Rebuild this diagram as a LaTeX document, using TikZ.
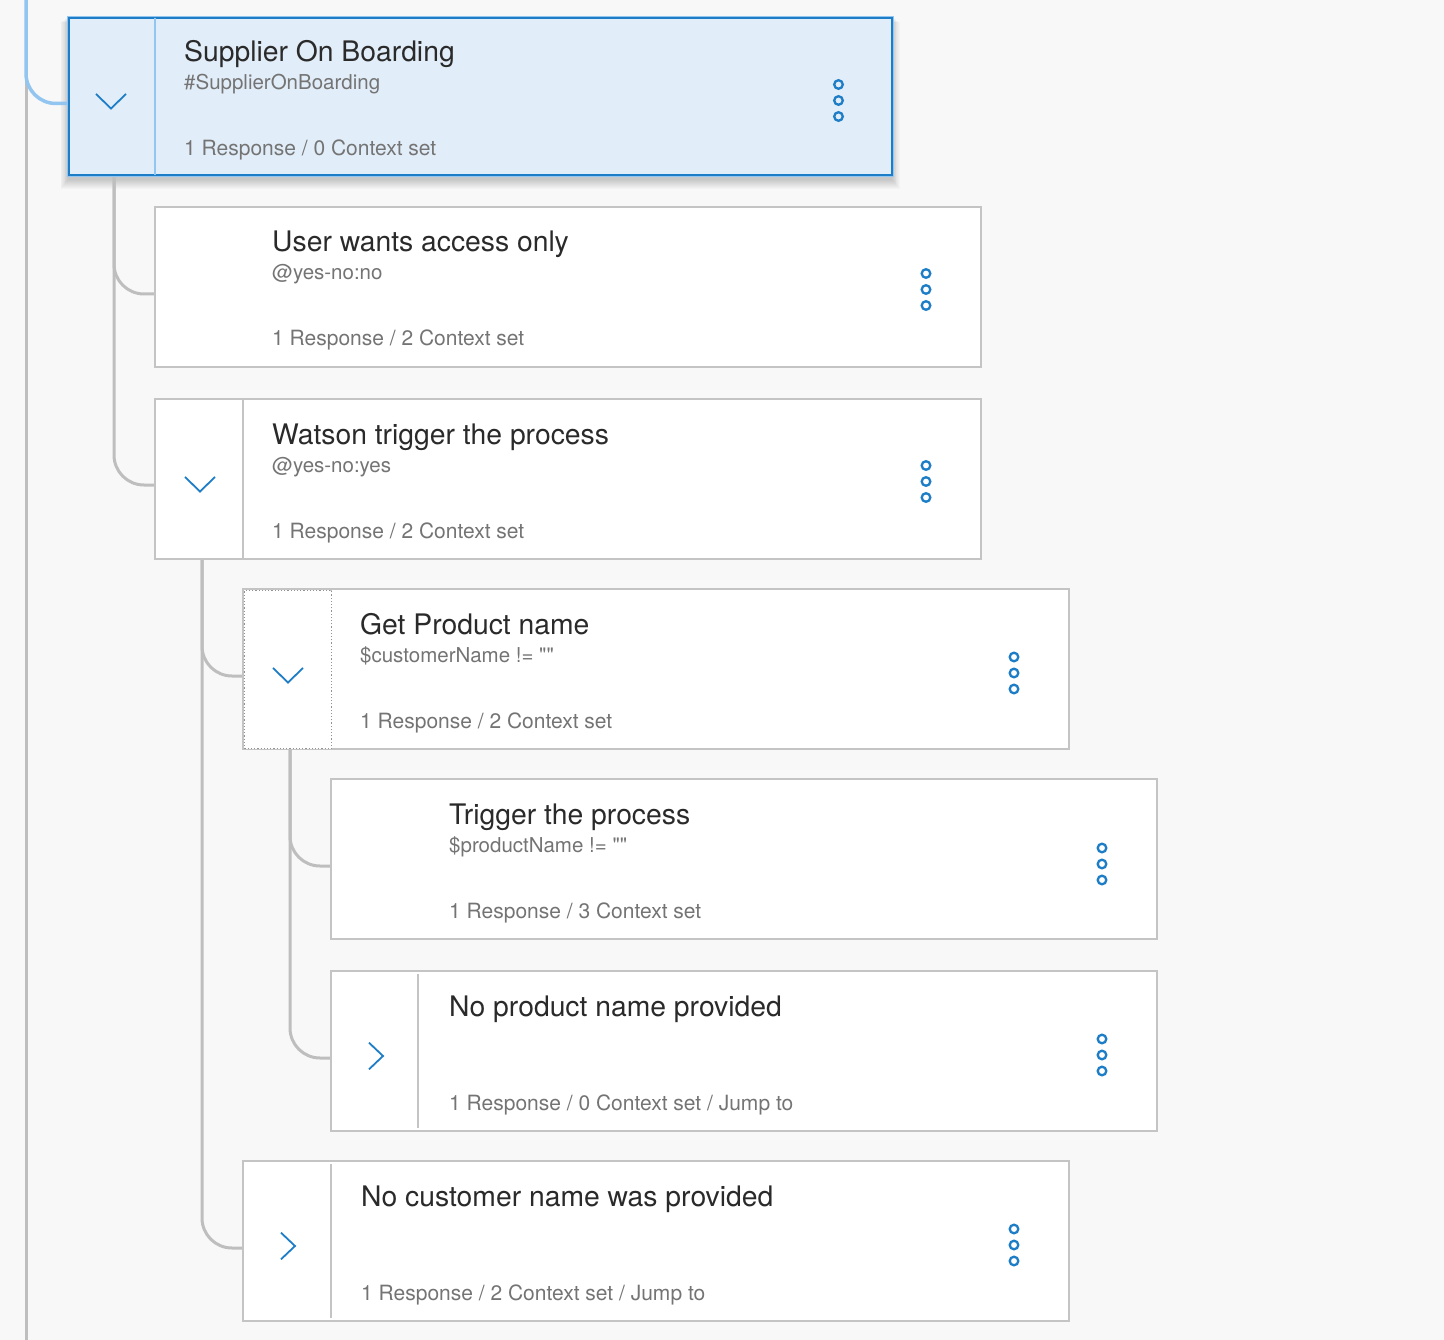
\documentclass[tikz,border=0pt]{standalone}
\usepackage{fontspec}
\setmainfont{TeX Gyre Heros}
\newfontfamily\qfont{TeX Gyre Heros}[Ligatures=TeXOff]
\usetikzlibrary{backgrounds}
\definecolor{bgc}{HTML}{F8F8F8}
\definecolor{linec}{HTML}{BEBEBE}
\definecolor{bordc}{HTML}{C4C4C4}
\definecolor{ibmblue}{HTML}{1D7DC6}
\definecolor{lightblue}{HTML}{92C5F0}
\definecolor{selfill}{HTML}{E1EDF8}
\definecolor{titlec}{HTML}{2A2A2A}
\definecolor{subc}{HTML}{747474}
\newcommand{\dq}{{\qfont\char34}}
\tikzset{
  card/.style={draw=bordc, line width=2pt, fill=white, minimum width=826pt, minimum height=160pt, anchor=north west, inner sep=0pt, outer sep=0pt},
  selcard/.style={draw=ibmblue, line width=2pt, fill=selfill, minimum width=823pt, minimum height=157pt, anchor=north west, inner sep=0pt, outer sep=0pt,
     preaction={draw=lightblue, line width=4pt}},
  conn/.style={draw=linec, line width=3pt, rounded corners=30pt},
  bconn/.style={draw=lightblue, line width=3.5pt, rounded corners=30pt},
  sepline/.style={draw=bordc, line width=2pt},
  bsepline/.style={draw=lightblue, line width=1.5pt},
  ttl/.style={anchor=base west, inner sep=0pt, text=titlec, font=\fontsize{28.3}{32}\selectfont},
  sub/.style={anchor=base west, inner sep=0pt, text=subc, font=\fontsize{20.5}{24}\selectfont},
  foot/.style={anchor=base west, inner sep=0pt, text=subc, font=\fontsize{21}{24}\selectfont},
  chev/.style={draw=ibmblue, line width=1.8pt},
  dotc/.style={draw=ibmblue, line width=2.3pt},
  shadowlayer/.style={fill=black, opacity=0.018},
  chevdown/.pic={\draw[chev] (-15,-7) -- (0,7.5) -- (15,-7);},
  chevright/.pic={\draw[chev] (-7,-13.3) -- (7,0) -- (-7,13.3);},
  kebab/.pic={\foreach \yy in {-16,0,16} \draw[dotc] (0,\yy) circle (4.3pt);}
}
\begin{document}
\begin{tikzpicture}[x=1pt,y=-1pt]
\useasboundingbox (0,0) rectangle (1444,1340);
\begin{scope}[on background layer]
\fill[bgc] (0,0) rectangle (1444,1340);
\end{scope}
\coordinate (top) at (26,0);
\coordinate (bottom) at (26,1340);

% cards
\node[selcard] (c1) at (68.5,18.5) {};
\node[card] (c2) at (155,207) {};
\node[card] (c3) at (155,399) {};
\node[card] (c4) at (243,589) {};
\node[card] (c5) at (331,779) {};
\node[card] (c6) at (331,971) {};
\node[card] (c7) at (243,1161) {};

% connectors and shadow behind cards
\begin{scope}[on background layer]
\foreach \i in {1,...,10}
  \fill[shadowlayer] ([shift={(-\i*0.8,-2+\i*0.6)}]c1.north west) rectangle ([shift={(\i*0.8,4+\i*1.0)}]c1.south east);
\draw[conn] (top) -- (bottom);
\draw[bconn] (top) |- ([yshift=-6.5pt]c1.west);
\draw[conn] ([xshift=45.5pt]c1.south west) |- ([yshift=-7pt]c2.west);
\draw[conn] ([xshift=45.5pt]c1.south west) |- ([yshift=-6pt]c3.west);
\draw[conn] ([xshift=47pt]c3.south west) |- ([yshift=-7pt]c4.west);
\draw[conn] ([xshift=47pt]c3.south west) |- ([yshift=-7pt]c7.west);
\draw[conn] ([xshift=47pt]c4.south west) |- ([yshift=-7pt]c5.west);
\draw[conn] ([xshift=47pt]c4.south west) |- ([yshift=-7pt]c6.west);
\end{scope}

% separators
\draw[bsepline] ([xshift=86.5pt]c1.north west) -- ([xshift=86.5pt]c1.south west);
\draw[sepline] ([xshift=88pt]c3.north west) -- ([xshift=88pt]c3.south west);
\draw[sepline] ([xshift=88pt]c4.north west) -- ([xshift=88pt]c4.south west);
\draw[sepline] ([xshift=87pt,yshift=-3pt]c6.north west) -- ([xshift=87pt,yshift=3pt]c6.south west);
\draw[sepline] ([xshift=88pt,yshift=-3pt]c7.north west) -- ([xshift=88pt,yshift=3pt]c7.south west);
% focus ring on toggle of c4
\node[draw=gray!85, dotted, line width=1.2pt, fill=white, minimum width=87pt, minimum height=158pt, anchor=north west, inner sep=0pt] (f4) at ([xshift=1pt,yshift=-1pt]c4.north west) {};

% chevrons
\pic at ([shift={(42.5,4)}]c1.west) {chevdown};
\pic at ([shift={(45,5)}]c3.west) {chevdown};
\pic at ([shift={(45,6)}]c4.west) {chevdown};
\pic at ([shift={(45,5)}]c6.west) {chevright};
\pic at ([shift={(45,5)}]c7.west) {chevright};

% kebab menus
\pic at ([shift={(-53,3.5)}]c1.east) {kebab};
\pic at ([shift={(-55,2.5)}]c2.east) {kebab};
\pic at ([shift={(-55,2.5)}]c3.east) {kebab};
\pic at ([shift={(-55,4)}]c4.east) {kebab};
\pic at ([shift={(-55,5)}]c5.east) {kebab};
\pic at ([shift={(-55,4)}]c6.east) {kebab};
\pic at ([shift={(-55,4)}]c7.east) {kebab};

% texts
\node[ttl] (t1) at ([xshift=115.5pt,yshift=-43.5pt]c1.north west) {Supplier On Boarding};
\node[sub] (s1) at ([xshift=115.5pt,yshift=-71.5pt]c1.north west) {\#SupplierOnBoarding};
\node[foot] (f1) at ([xshift=115.5pt,yshift=-137.5pt]c1.north west) {1 Response / 0 Context set};

\node[ttl] (t2) at ([xshift=117pt,yshift=-45pt]c2.north west) {User wants access only};
\node[sub] (s2) at ([xshift=117pt,yshift=-73pt]c2.north west) {@yes-no:no};
\node[foot] (f2) at ([xshift=117pt,yshift=-139pt]c2.north west) {1 Response / 2 Context set};

\node[ttl] (t3) at ([xshift=117pt,yshift=-45pt]c3.north west) {Watson trigger the process};
\node[sub] (s3) at ([xshift=117pt,yshift=-73pt]c3.north west) {@yes-no:yes};
\node[foot] (f3) at ([xshift=117pt,yshift=-139pt]c3.north west) {1 Response / 2 Context set};

\node[ttl] (t4) at ([xshift=117pt,yshift=-45pt]c4.north west) {Get Product name};
\node[sub] (s4) at ([xshift=117pt,yshift=-73pt]c4.north west) {\$customerName != \dq\dq};
\node[foot] (f4t) at ([xshift=117pt,yshift=-139pt]c4.north west) {1 Response / 2 Context set};

\node[ttl] (t5) at ([xshift=118pt,yshift=-45pt]c5.north west) {Trigger the process};
\node[sub] (s5) at ([xshift=118pt,yshift=-73pt]c5.north west) {\$productName != \dq\dq};
\node[foot] (f5) at ([xshift=118pt,yshift=-139pt]c5.north west) {1 Response / 3 Context set};

\node[ttl] (t6) at ([xshift=118pt,yshift=-45pt]c6.north west) {No product name provided};
\node[foot] (f6) at ([xshift=118pt,yshift=-139pt]c6.north west) {1 Response / 0 Context set / Jump to};

\node[ttl] (t7) at ([xshift=118pt,yshift=-45pt]c7.north west) {No customer name was provided};
\node[foot] (f7) at ([xshift=118pt,yshift=-139pt]c7.north west) {1 Response / 2 Context set / Jump to};
\end{tikzpicture}
\end{document}
